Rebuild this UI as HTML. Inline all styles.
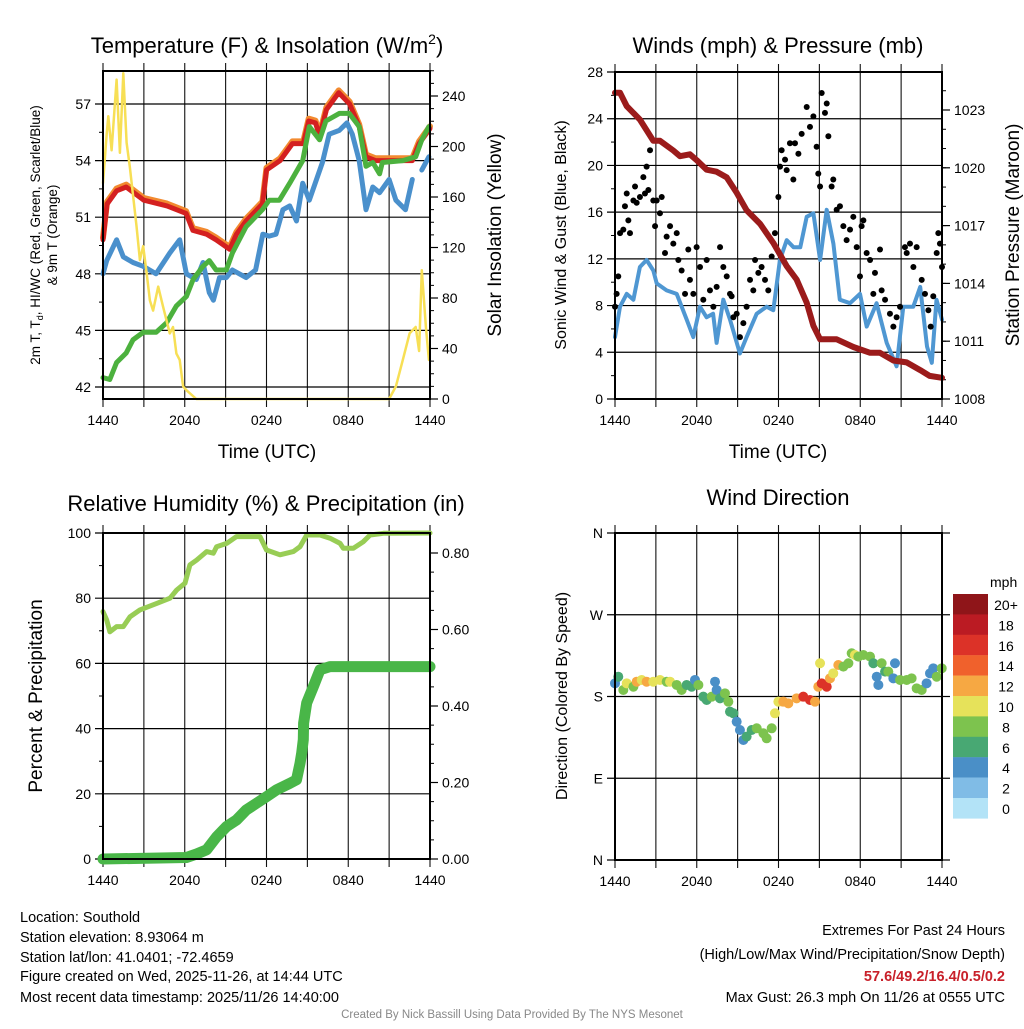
<!DOCTYPE html>
<html><head><meta charset="utf-8"><style>
body{margin:0;background:#fff;}
svg text{font-family:"Liberation Sans",Arial,sans-serif;fill:#000;}
</style></head><body>
<svg id="fig" xmlns="http://www.w3.org/2000/svg" width="1024" height="1024" viewBox="0 0 1024 1024">
<rect width="1024" height="1024" fill="#fff"/>
<g id="layer"></g>
<text x="267" y="53" font-size="22" text-anchor="middle">Temperature (F) &amp; Insolation (W/m<tspan font-size="14" dy="-9">2</tspan><tspan dy="9">)</tspan></text>
<text x="778" y="53" font-size="22" text-anchor="middle">Winds (mph) &amp; Pressure (mb)</text>
<text x="266" y="511" font-size="22" text-anchor="middle">Relative Humidity (%) &amp; Precipitation (in)</text>
<text x="778" y="505" font-size="22" text-anchor="middle">Wind Direction</text>
<text transform="translate(40,235) rotate(-90)" font-size="13.5" text-anchor="middle">2m T, T<tspan font-size="9" dy="3">d</tspan><tspan dy="-3">, HI/WC (Red, Green, Scarlet/Blue)</tspan></text>
<text transform="translate(57,235) rotate(-90)" font-size="13.5" text-anchor="middle">&amp; 9m T (Orange)</text>
<text transform="translate(501,235) rotate(-90)" font-size="19" text-anchor="middle">Solar Insolation (Yellow)</text>
<text transform="translate(566,235) rotate(-90)" font-size="16" text-anchor="middle">Sonic Wind &amp; Gust (Blue, Black)</text>
<text transform="translate(1019,235) rotate(-90)" font-size="19" text-anchor="middle">Station Pressure (Maroon)</text>
<text transform="translate(42,696) rotate(-90)" font-size="19" text-anchor="middle">Percent &amp; Precipitation</text>
<text transform="translate(567,696) rotate(-90)" font-size="16" text-anchor="middle">Direction (Colored By Speed)</text>
<text x="267" y="458" font-size="19" text-anchor="middle">Time (UTC)</text>
<text x="778" y="458" font-size="19" text-anchor="middle">Time (UTC)</text>
<g font-size="14.5">
<text x="20" y="922">Location: Southold</text>
<text x="20" y="942">Station elevation: 8.93064 m</text>
<text x="20" y="962">Station lat/lon: 41.0401; -72.4659</text>
<text x="20" y="981">Figure created on Wed, 2025-11-26, at 14:44 UTC</text>
<text x="20" y="1002">Most recent data timestamp: 2025/11/26 14:40:00</text>
</g>
<g font-size="14.5" text-anchor="end">
<text x="1005" y="935">Extremes For Past 24 Hours</text>
<text x="1005" y="959">(High/Low/Max Wind/Precipitation/Snow Depth)</text>
<text x="1005" y="981" font-weight="bold" style="fill:#c8202a">57.6/49.2/16.4/0.5/0.2</text>
<text x="1005" y="1002">Max Gust: 26.3 mph On 11/26 at 0555 UTC</text>
</g>
<text x="512" y="1018" font-size="11.5" text-anchor="middle" style="fill:#888">Created By Nick Bassill Using Data Provided By The NYS Mesonet</text>
</svg>
<script>
// ---- data ----
const xTickLabels = ['1440','2040','0240','0840','1440'];
const tempTimes = [0,0.3,1,1.7,3,4.7,6.1,6.6,7.6,8.3,9.3,9.8,10.5,11.7,12,13,13.9,14.7,15.1,15.6,15.9,16.4,17.3,18.1,18.8,19.3,20,21,22,22.7,23.2,24];
const tempVals = [49.8,51.7,52.4,52.6,51.9,51.6,51.2,50.3,50.1,49.8,49.3,50.1,50.8,51.7,53.5,54.0,54.9,54.9,56.1,56.0,55.3,56.7,57.6,57.0,55.8,54.2,54.0,54.0,54.0,54.0,54.9,55.7];
const dewTimes = [0,0.5,1,1.7,2.2,2.95,3.9,4.66,5.39,6.12,6.61,7.34,7.8,8.3,9.05,9.5,10.5,11.7,12.2,12.95,13.7,14.66,15.14,15.9,16.36,17.34,18.07,18.8,19.3,19.8,20.3,20.5,22,22.95,23.4,23.92];
const dewVals = [42.5,42.4,43.3,43.8,44.5,44.9,44.9,45.4,46.3,46.8,47.7,48.4,48.7,48.2,48.2,49.1,50.5,51.4,51.9,51.9,52.8,54.0,55.8,55.1,56.1,56.5,56.5,55.8,53.7,53.9,53.3,53.9,54.0,54.2,55.1,55.8];
const hiwcTimes = [0,0.27,1,1.49,2.2,2.95,3.9,4.9,5.63,6.12,6.85,7.34,7.8,8.1,8.55,9.05,9.5,10.5,11.2,11.73,12.2,12.7,13.2,13.7,14.2,14.66,15.14,16.1,16.6,17.34,17.9,18.3,18.8,19.3,19.8,20.3,21,21.5,22.2,22.7];
const hiwcVals = [48.0,48.7,49.8,48.9,48.6,48.4,48.0,49.1,49.8,48.0,47.7,48.6,47.0,46.6,47.8,47.8,48.2,47.8,48.2,50.1,50.0,50.1,51.4,51.6,50.8,52.8,51.9,53.9,55.4,55.6,56.0,55.4,54.0,51.4,52.6,52.3,53.0,51.9,51.4,53.0];
const hiwc2Times = [23.4,23.92];
const hiwc2Vals = [53.5,54.2];
const solarTimes = [0,0.27,0.39,0.63,1,1.24,1.49,1.73,1.97,2.46,2.71,2.95,3.2,3.44,3.68,4.05,4.41,4.9,5.14,5.39,5.63,5.88,6.12,6.85,21,21.5,22,22.5,22.95,23.2,23.4,23.7,23.92];
const solarVals = [171,210,224,197,253,195,258,203,184,137,110,121,100,78,70,89,73,52,57,36,31,10,7,0,0,10,31,52,57,38,102,57,31];
const presTimes = [0,0.37,0.86,1.83,2.81,3.3,4.28,4.77,5.5,5.99,6.72,7.46,8.2,8.93,9.66,10.64,11.62,12.6,13.33,14.07,14.56,15.05,16.27,17.5,18.72,19.45,20.43,21.4,22.4,23.1,24];
const presVals = [1023.9,1023.9,1023.2,1022.5,1021.4,1021.4,1020.9,1020.6,1020.7,1020.4,1019.9,1019.8,1019.5,1018.7,1017.8,1017.1,1016.1,1014.9,1014.2,1013.0,1011.8,1011.1,1011.1,1010.7,1010.4,1010.4,1010.0,1009.9,1009.5,1009.2,1009.1];
const windTimes = [0,0.37,0.86,1.35,1.83,2.32,2.81,3.06,3.79,4.53,5.26,5.75,6.24,6.72,7.2,7.46,7.95,8.44,9.17,9.66,10.4,11.13,11.62,12.1,12.6,13.1,13.6,14.07,14.56,15.05,15.54,16.03,16.5,17.25,17.98,18.47,19.2,19.94,20.67,21.16,21.89,22.4,22.9,23.25,23.6,24];
const windVals = [5.3,7.9,9.0,8.5,11.3,11.9,11.0,9.9,9.3,9.0,6.8,5.3,7.9,7.0,7.3,4.8,8.5,6.8,3.9,5.3,7.3,7.9,7.6,11.9,13.6,13.0,13.0,15.6,15.9,11.9,16.2,13.3,8.5,8.2,9.0,6.2,8.2,4.8,2.8,7.9,7.9,9.6,4.5,3.1,8.5,6.8];
const gustTimes = [0,0.12,0.24,0.37,0.61,0.73,0.86,0.98,1.10,1.35,1.47,1.59,1.83,2.08,2.20,2.32,2.45,2.57,2.81,2.94,3.06,3.30,3.43,3.67,3.79,4.04,4.28,4.53,4.65,4.89,5.14,5.38,5.50,5.75,5.99,6.24,6.48,6.73,6.97,7.22,7.46,7.71,7.95,8.20,8.44,8.56,8.69,8.93,9.17,9.42,9.66,9.91,10.15,10.28,10.52,10.76,11.01,11.25,11.50,11.74,11.99,12.11,12.23,12.48,12.60,12.84,13.09,13.21,13.46,13.70,14.07,14.31,14.56,14.80,14.92,15.05,15.17,15.41,15.54,15.66,15.90,16.02,16.27,16.51,16.76,17.00,17.25,17.49,17.74,17.98,18.10,18.23,18.47,18.72,18.96,19.08,19.45,19.57,19.82,20.18,20.43,20.67,20.92,21.28,21.41,21.65,21.90,22.14,22.51,22.75,23.00,23.17,23.36,23.61,23.73,23.85,24.00];
const gustVals = [7.9,9.0,10.5,14.2,14.5,16.5,17.6,15.3,14.2,17.0,18.2,16.8,17.3,19.0,17.6,19.9,17.9,21.3,17.0,14.8,17.0,15.9,17.3,12.5,13.9,14.8,13.3,14.2,11.9,11.0,9.0,12.8,10.2,9.0,13.0,11.3,8.5,11.9,9.3,7.9,9.6,13.0,11.3,10.5,9.0,8.8,7.0,7.3,5.3,6.5,7.9,10.2,9.3,11.9,10.8,11.3,10.2,9.3,12.2,14.2,17.3,19.9,21.3,20.5,19.6,21.9,18.8,21.9,21.0,22.7,25.0,23.3,24.2,21.6,19.3,18.2,26.2,24.5,25.3,22.5,18.2,18.8,16.2,16.5,14.8,13.6,14.5,15.6,13.0,10.5,14.8,15.3,12.5,11.9,9.0,10.8,12.8,9.3,8.5,7.3,6.2,7.0,7.9,13.0,12.5,13.3,11.3,13.0,10.2,9.0,7.6,6.2,8.8,12.5,14.2,13.3,11.3];
const rhTimes = [0,0.27,0.51,1.0,1.49,1.98,2.71,3.94,4.92,5.41,6.02,6.38,6.87,7.6,8.1,8.34,9.07,9.8,11.52,12.0,12.99,13.97,14.46,14.95,15.93,16.66,17.4,17.64,18.37,19.1,19.6,20.58,24];
const rhVals = [75.9,73.3,69.7,71.3,71.3,74.3,76.4,78.4,80.0,82.5,84.6,90.2,91.7,94.3,93.8,95.8,96.8,98.9,98.9,94.8,93.3,94.3,95.8,99.4,99.4,98.4,96.8,95.3,95.3,97.3,99.4,99.9,100];
const precipTimes = [0,6.12,6.87,7.6,8.34,9.07,9.8,10.51,11.27,12.0,12.74,13.72,14.2,14.46,14.58,14.7,14.72,14.95,15.44,15.93,16.66,24];
const precipVals = [0,0.004,0.013,0.024,0.058,0.085,0.102,0.128,0.146,0.163,0.181,0.198,0.207,0.25,0.277,0.312,0.355,0.408,0.451,0.495,0.503,0.503];
const dirTimes = [0,0.24,0.61,0.86,1.35,1.59,1.96,2.32,2.81,3.30,3.79,4.04,4.53,4.89,5.26,5.63,5.87,6.12,6.48,6.73,7.10,7.34,7.46,7.71,8.07,8.32,8.44,8.69,8.93,9.17,9.42,9.66,10.03,10.40,10.89,11.13,11.50,11.74,11.99,12.35,12.72,13.33,13.82,14.31,14.68,14.92,15.05,15.17,15.54,15.78,16.02,16.39,16.76,17.13,17.37,17.61,17.86,18.23,18.72,18.96,19.21,19.33,19.57,19.82,20.06,20.55,20.43,20.92,21.41,21.77,22.14,22.51,22.87,23.12,23.36,23.61,23.98];
const dirVals = [194.5,201.8,187.2,194.5,190.8,196.3,198.2,196.3,196.3,198.2,196.3,196.3,192.7,187.2,192.7,190.8,198.2,192.7,179.8,176.2,179.8,196.3,187.2,178.0,183.5,174.3,163.3,161.5,152.3,143.1,132.1,135.8,143.1,145.0,139.5,134.0,145.0,161.5,174.3,174.3,172.5,178.0,179.8,176.2,174.3,190.8,216.6,194.5,190.8,200.0,205.5,214.7,212.9,216.6,227.6,225.7,223.9,225.7,223.9,216.6,201.8,192.7,216.6,207.4,207.4,216.6,200.0,198.2,198.2,200.0,189.0,187.2,194.5,205.5,211.0,201.8,211.0];
const dirSpeeds = [5,7,9,11,9,13,11,13,11,11,9,11,9,9,7,7,5,9,7,7,9,5,5,7,9,9,7,7,5,5,5,7,7,9,9,9,9,11,11,13,13,13,17,17,13,13,11,17,17,13,11,13,9,9,9,11,9,9,9,7,5,5,9,7,9,5,5,9,9,9,9,9,5,5,5,9,9];
const speedBinLabels = ['20+','18','16','14','12','10','8','6','4','2','0'];
const speedBinColors = ['#8f1519','#bb1b23','#dc3228','#f0612c','#f6a843','#e6e25a','#7dc34e','#48a873','#4a8fc7','#80bce6','#b3e3f7'];

// ---- drawing ----
const NS = 'http://www.w3.org/2000/svg';
const layer = document.getElementById('layer');
function mk(tag, attrs, parent) {
  const e = document.createElementNS(NS, tag);
  for (const k in attrs) e.setAttribute(k, attrs[k]);
  (parent || layer).appendChild(e);
  return e;
}
function txt(x, y, s, size, anchor, parent) {
  const t = mk('text', {x: x, y: y, 'font-size': size, 'text-anchor': anchor}, parent);
  t.textContent = s;
  return t;
}
function mkScale(d0, d1, r0, r1) { return v => r0 + (v - d0) * (r1 - r0) / (d1 - d0); }

function panel(name, x0, y0, x1, y1) {
  const g = mk('g', {});
  
  
  const xs = mkScale(0, 24, x0, x1);
  for (let h = 0; h <= 24; h += 3) {
    const l = mk('line', {x1: xs(h), x2: xs(h), y1: y0 - 8, y2: y1 + 8, stroke: '#111', 'stroke-width': 1.1}, g);
    
    
  }
  for (let i = 0; i < xTickLabels.length; i++) {
    const t = txt(xs(i * 6), y1 + 26, xTickLabels[i], 14, 'middle', g);
    
    
  }
  return {g, xs};
}
function frame(g, x0, y0, x1, y1) {
  const r = mk('rect', {x: x0, y: y0, width: x1 - x0, height: y1 - y0, fill: 'none', stroke: '#000', 'stroke-width': 2}, g);
  
  
}
function hgrid(g, x0, x1, y, color) {
  const l = mk('line', {x1: x0 - 8, x2: x1, y1: y, y2: y, stroke: color || '#000', 'stroke-width': 1.2}, g);
  
  
}
function leftLabel(g, x, y, s) {
  const t = txt(x - 12, y + 5, s, 14, 'end', g);
  
  
}
function rightTicks(g, x1, ys, vals, labels, minors) {
  for (const m of minors) mk('line', {x1: x1, x2: x1 + 4, y1: ys(m), y2: ys(m), stroke: '#000', 'stroke-width': 1}, g);
  vals.forEach((v, i) => {
    mk('line', {x1: x1, x2: x1 + 8, y1: ys(v), y2: ys(v), stroke: '#000', 'stroke-width': 1.2}, g);
    const t = txt(x1 + 12, ys(v) + 5, labels[i], 14, 'start', g);
    
    
  });
}
function line(g, times, vals, xs, ys, color, w, name) {
  const pts = times.map((t, i) => xs(t).toFixed(1) + ',' + ys(vals[i]).toFixed(1)).join(' ');
  const p = mk('polyline', {points: pts, fill: 'none', stroke: color, 'stroke-width': w, 'stroke-linejoin': 'round', 'stroke-linecap': 'round'}, g);
  
  
  return p;
}

// Panel 1
(function () {
  const x0 = 103, x1 = 430, y0 = 71, y1 = 399;
  const {g, xs} = panel('temperature-panel', x0, y0, x1, y1);
  const yT = mkScale(42, 57, 387, 104);
  const yS = mkScale(0, 240, 399, 96);
  for (let v = 42; v <= 57; v += 3) { hgrid(g, x0, x1, yT(v)); leftLabel(g, x0, yT(v), String(v)); }
  for (let v = 43.5; v <= 57; v += 3) mk('line', {x1: x0 - 4, x2: x0, y1: yT(v), y2: yT(v), stroke: '#000'}, g);
  const minors = []; for (let v = 0; v <= 260; v += 10) minors.push(v);
  rightTicks(g, x1, yS, [0,40,80,120,160,200,240], ['0','40','80','120','160','200','240'], minors);
  line(g, tempTimes, tempVals.map(v => v + 0.12), xs, yT, '#f28a30', 6, 'nine-meter-temp-line');
  line(g, tempTimes, tempVals, xs, yT, '#d42020', 5, 'temperature-line');
  line(g, hiwcTimes, hiwcVals, xs, yT, '#4a90cc', 5, 'heat-index-windchill-line');
  line(g, hiwc2Times, hiwc2Vals, xs, yT, '#4a90cc', 5, 'heat-index-windchill-line-2');
  line(g, dewTimes, dewVals, xs, yT, '#4cb13e', 5, 'dewpoint-line');
  line(g, solarTimes, solarVals, xs, yS, '#f7df55', 2.5, 'solar-insolation-line');
  frame(g, x0, y0, x1, y1);
})();

// Panel 2
(function () {
  const x0 = 615, x1 = 942, y0 = 72, y1 = 399;
  const {g, xs} = panel('winds-panel', x0, y0, x1, y1);
  const yW = mkScale(0, 28, 399, 72);
  const yP = mkScale(1008, 1023, 399, 110);
  for (let v = 0; v <= 28; v += 4) { hgrid(g, x0, x1, yW(v)); leftLabel(g, x0, yW(v), String(v)); }
  for (let v = 2; v <= 28; v += 4) mk('line', {x1: x0 - 4, x2: x0, y1: yW(v), y2: yW(v), stroke: '#000'}, g);
  const minors = []; for (let v = 1008; v <= 1024; v += 1) minors.push(v);
  rightTicks(g, x1, yP, [1008,1011,1014,1017,1020,1023], ['1008','1011','1014','1017','1020','1023'], minors);
  line(g, windTimes, windVals, xs, yW, '#4f97d2', 4, 'sonic-wind-line');
  line(g, presTimes, presVals, xs, yP, '#9b1b1b', 6, 'pressure-line');
  gustTimes.forEach((t, i) => {
    const c = mk('circle', {cx: xs(t), cy: yW(gustVals[i]), r: 3, fill: '#000'}, g);
    
    
  });
  frame(g, x0, y0, x1, y1);
})();

// Panel 3
(function () {
  const x0 = 103, x1 = 430, y0 = 533, y1 = 859;
  const {g, xs} = panel('humidity-panel', x0, y0, x1, y1);
  const yR = mkScale(0, 100, 859, 533);
  const yPr = mkScale(0, 0.8, 859, 553);
  for (let v = 0; v <= 100; v += 20) { hgrid(g, x0, x1, yR(v)); leftLabel(g, x0, yR(v), String(v)); }
  for (let v = 10; v <= 100; v += 20) mk('line', {x1: x0 - 4, x2: x0, y1: yR(v), y2: yR(v), stroke: '#000'}, g);
  const minors = []; for (let v = 0; v <= 0.85; v += 0.05) minors.push(v);
  rightTicks(g, x1, yPr, [0,0.2,0.4,0.6,0.8], ['0.00','0.20','0.40','0.60','0.80'], minors);
  line(g, rhTimes, rhVals, xs, yR, '#98cd55', 5, 'relative-humidity-line');
  line(g, precipTimes, precipVals, xs, yPr, '#49b648', 11, 'precipitation-line');
  frame(g, x0, y0, x1, y1);
})();

// Panel 4
(function () {
  const x0 = 615, x1 = 942, y0 = 533, y1 = 860;
  const {g, xs} = panel('wind-direction-panel', x0, y0, x1, y1);
  const yD = mkScale(0, 360, 860, 533);
  const dl = ['N','E','S','W','N'];
  for (let i = 0; i < 5; i++) { hgrid(g, x0, x1, yD(i * 90)); leftLabel(g, x0, yD(i * 90), dl[i]); }
  for (let i = 0; i < 5; i++) mk('line', {x1: x1, x2: x1 + 8, y1: yD(i * 90), y2: yD(i * 90), stroke: '#000', 'stroke-width': 1.2}, g);
  dirTimes.forEach((t, i) => {
    const s = dirSpeeds[i];
    const bin = Math.min(10, Math.floor(s / 2));
    const c = mk('circle', {cx: xs(t), cy: yD(dirVals[i]), r: 5, fill: speedBinColors[10 - bin]}, g);
    
    
  });
  frame(g, x0, y0, x1, y1);
  const cb = mk('g', {});
  
  
  const t0 = txt(990, 587, 'mph', 14, 'start', cb);
  
  
  speedBinColors.forEach((c, i) => {
    const r = mk('rect', {x: 953, y: 594 + i * 20.4, width: 35, height: 20.6, fill: c}, cb);
    
    
    const t = txt(1006, 610 + i * 20.4, speedBinLabels[i], 14, 'middle', cb);
    
    
  });
})();
</script>
</body></html>
